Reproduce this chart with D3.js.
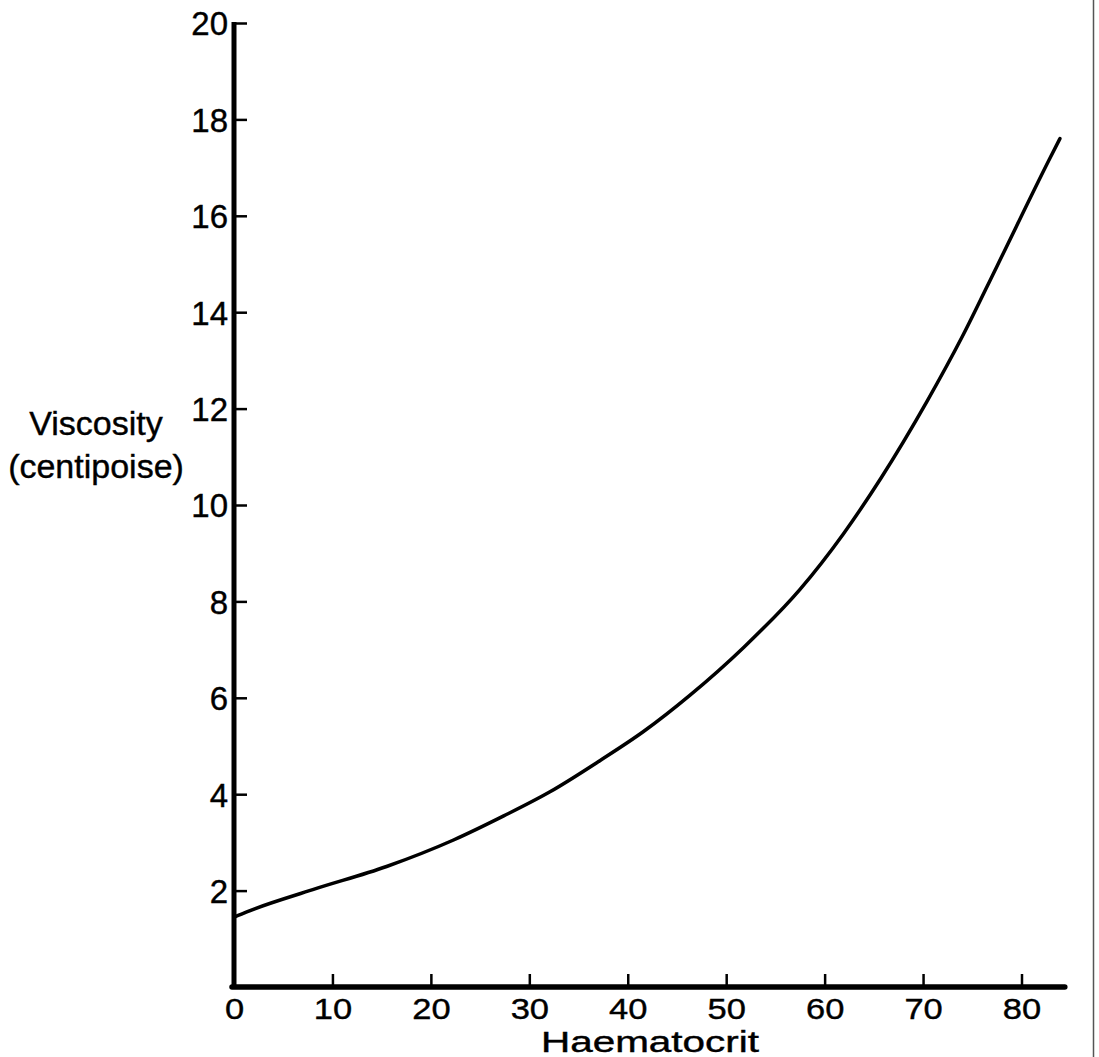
<!DOCTYPE html>
<head>
<meta charset="utf-8">
<title>Viscosity vs haematocrit</title>
<script src="https://cdn.jsdelivr.net/npm/d3@7"></script>
<style>
  body { margin: 0; background: #fff; }
  svg text { font-family: "Liberation Sans", Arial, Helvetica, sans-serif; fill: #000; stroke: #000; stroke-width: 0.4px; }
</style>
</head>
<body>
<svg width="1099" height="1057"></svg>
<script>
// values
var haematocrit = [0, 1.3, 8, 15.5, 22.3, 27.4, 32.1, 37.2, 41.6, 46.3, 51.8, 57.5, 61.9, 65.7, 70.4, 74, 77.5, 82.9, 83.9]
var viscosity   = [1.45, 1.56, 2.02, 2.5, 3.05, 3.55, 4.05, 4.7, 5.3, 6.05, 7.05, 8.25, 9.4, 10.55, 12.15, 13.5, 14.95, 17.2, 17.6]
var xTicks = [0, 10, 20, 30, 40, 50, 60, 70, 80]
var yTicks = [2, 4, 6, 8, 10, 12, 14, 16, 18, 20]

var svg = d3.select('svg')

var x = d3.scaleLinear().domain([0, 80]).range([234, 1021.5])
  , y = d3.scaleLinear().domain([0, 20]).range([987, 23])

// right-hand page rule
svg.append('line')
  .attr('x1', 1093.5).attr('x2', 1093.5)
  .attr('y1', 0).attr('y2', 1057)
  .attr('stroke', '#555').attr('stroke-width', 1.5)

// y axis
var ya = svg.append('g')
  .attr('transform', 'translate(' + x(0) + ',0)')
  .call(d3.axisLeft(y).tickValues(yTicks).tickSizeInner(-13).tickSizeOuter(0).tickPadding(6))
ya.select('.domain').remove()
ya.selectAll('.tick line').attr('stroke', '#000').attr('stroke-width', 2.5)
ya.selectAll('.tick text')
  .attr('font-size', 33)
  .attr('dy', '0.36em')

// x axis
var xa = svg.append('g')
  .attr('transform', 'translate(0,' + y(0) + ')')
  .call(d3.axisBottom(x).tickValues(xTicks).tickSizeInner(-13).tickSizeOuter(0))
xa.select('.domain').remove()
xa.selectAll('.tick line').attr('stroke', '#000').attr('stroke-width', 2.5)
xa.selectAll('.tick text')
  .attr('font-size', 30)
  .attr('y', 32)
  .attr('dy', 0)
  .attr('transform', 'scale(1.15,1)')
  .attr('x', 0)

// thick axis lines
svg.append('line')
  .attr('x1', x(0)).attr('x2', x(0))
  .attr('y1', y(20) - 1).attr('y2', y(0))
  .attr('stroke', '#000').attr('stroke-width', 5)
svg.append('line')
  .attr('x1', x(0) - 2).attr('x2', x(84.4))
  .attr('y1', y(0)).attr('y2', y(0))
  .attr('stroke', '#000').attr('stroke-width', 5.5)
  .attr('stroke-linecap', 'round')

// curve
var pts = haematocrit.map(function (h, i) { return [h, viscosity[i]] })
svg.append('path')
  .datum(pts)
  .attr('fill', 'none')
  .attr('stroke', '#000')
  .attr('stroke-width', 3.5)
  .attr('stroke-linecap', 'round')
  .attr('d', d3.line()
    .x(function (d) { return x(d[0]) })
    .y(function (d) { return y(d[1]) })
    .curve(d3.curveMonotoneX))

// titles
svg.append('text')
  .attr('x', 96).attr('y', 435)
  .attr('text-anchor', 'middle')
  .attr('font-size', 34)
  .text('Viscosity')
svg.append('text')
  .attr('x', 96).attr('y', 478)
  .attr('text-anchor', 'middle')
  .attr('font-size', 34)
  .text('(centipoise)')
svg.append('text')
  .attr('x', 541).attr('y', 1052)
  .attr('font-size', 29)
  .attr('textLength', 218)
  .attr('lengthAdjust', 'spacingAndGlyphs')
  .text('Haematocrit')
</script>
</body>
